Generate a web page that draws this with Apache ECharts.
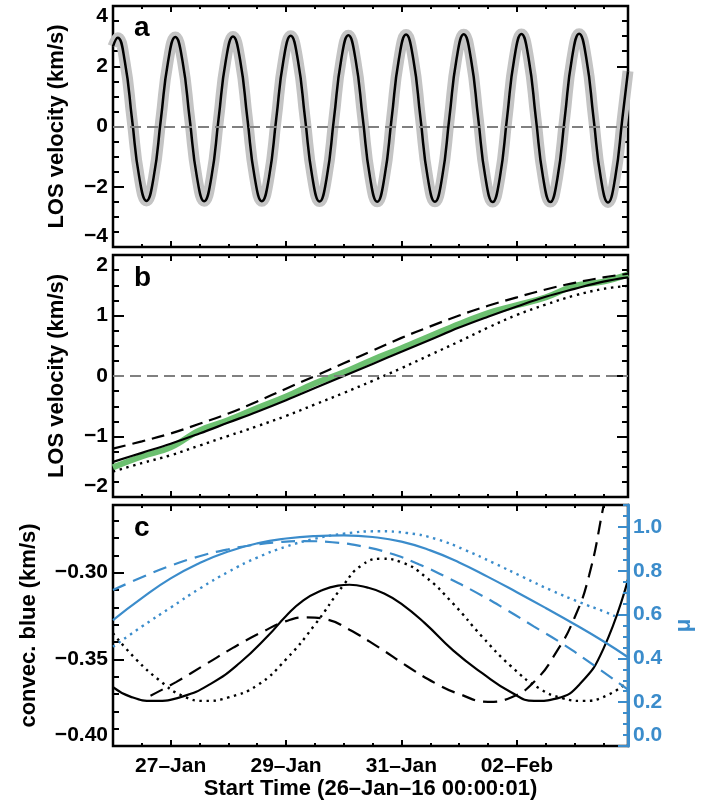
<!DOCTYPE html>
<html><head><meta charset="utf-8">
<script src="https://cdn.jsdelivr.net/npm/echarts@6/dist/echarts.min.js"></script>
<style>html,body{margin:0;padding:0;background:#fff}#c{width:707px;height:807px}</style>
</head><body><div id="c"></div>
<script>
// ---------- DATA (x in days since 26-Jan-16 00:00:01) ----------
const xTickDays = [1, 3, 5, 7];
const xTickLabels = ['27\u2013Jan', '29\u2013Jan', '31\u2013Jan', '02\u2013Feb'];
const xEnd = 8.927;

// Panel a: LOS velocity (observed gray band and black fit)
const timeA = [0,
  0.08,0.205,0.33,0.455,0.58,0.705,0.83,0.955,
  1.08,1.205,1.33,1.455,1.58,1.705,1.83,1.955,
  2.08,2.205,2.33,2.455,2.58,2.705,2.83,2.955,
  3.08,3.205,3.33,3.455,3.58,3.705,3.83,3.955,
  4.08,4.205,4.33,4.455,4.58,4.705,4.83,4.955,
  5.08,5.205,5.33,5.455,5.58,5.705,5.83,5.955,
  6.08,6.205,6.33,6.455,6.58,6.705,6.83,6.955,
  7.08,7.205,7.33,7.455,7.58,7.705,7.83,7.955,
  8.08,8.205,8.33,8.455,8.58,8.705,8.83,
  8.927];
const fitA = [2.66,
  2.95,2.16,0.24,-1.68,-2.47,-1.68,0.24,2.16,
  2.97,2.17,0.24,-1.68,-2.48,-1.69,0.25,2.18,
  2.99,2.19,0.25,-1.68,-2.48,-1.68,0.26,2.20,
  3.01,2.20,0.26,-1.68,-2.49,-1.69,0.26,2.21,
  3.03,2.22,0.27,-1.69,-2.50,-1.69,0.27,2.23,
  3.05,2.24,0.28,-1.69,-2.50,-1.69,0.28,2.24,
  3.06,2.24,0.28,-1.69,-2.51,-1.70,0.28,2.25,
  3.07,2.25,0.28,-1.69,-2.51,-1.70,0.28,2.26,
  3.08,2.26,0.28,-1.70,-2.52,-1.70,0.28,
  1.84];
const obsA = fitA;

// Panel b: LOS velocity after removing the orbital term
const timeB = [0,0.5,1,1.5,2,2.5,3,3.5,4,4.5,5,5.5,6,6.5,7,7.5,8,8.5,8.927];
const obsB  = [-1.51,-1.33,-1.18,-0.90,-0.73,-0.53,-0.34,-0.12,0.06,0.27,0.46,0.66,0.86,1.04,1.17,1.30,1.49,1.56,1.68];
const fitB  = [-1.42,-1.27,-1.12,-0.95,-0.77,-0.59,-0.40,-0.20,0.00,0.20,0.40,0.60,0.80,0.98,1.15,1.31,1.44,1.56,1.63];
const dashB = [-1.20,-1.08,-0.95,-0.79,-0.62,-0.42,-0.21,0.00,0.21,0.42,0.63,0.82,1.00,1.16,1.30,1.43,1.54,1.63,1.69];
const dotB  = [-1.58,-1.44,-1.31,-1.15,-0.99,-0.83,-0.66,-0.47,-0.28,-0.08,0.13,0.35,0.57,0.80,1.01,1.18,1.33,1.44,1.49];

// Panel c: convective blueshift (left axis)
const timeCsolid = [0,0.3,0.7,1.2,1.7,2.2,2.7,3.0,3.3,3.6,3.9,4.1,4.4,4.7,5.0,5.4,5.9,6.4,6.9,7.3,7.7,8.1,8.5,8.927];
const cbSolid    = [-0.366,-0.3715,-0.374,-0.3715,-0.364,-0.352,-0.336,-0.325,-0.316,-0.3105,-0.3075,-0.307,-0.3085,-0.312,-0.318,-0.329,-0.345,-0.358,-0.369,-0.374,-0.3725,-0.364,-0.344,-0.304];
const timeCdash  = [0.65,1.1,1.6,2.1,2.6,3.0,3.35,3.7,4.1,4.6,5.1,5.6,6.0,6.5,6.9,7.3,7.7,8.0,8.25,8.5,8.7];
const cbDash     = [-0.371,-0.363,-0.353,-0.343,-0.334,-0.328,-0.3258,-0.327,-0.333,-0.343,-0.354,-0.364,-0.370,-0.3745,-0.372,-0.363,-0.345,-0.326,-0.302,-0.262,-0.228];
const timeCdot   = [0,0.4,0.8,1.2,1.6,2.0,2.5,3.0,3.5,4.0,4.3,4.65,5.0,5.4,5.9,6.4,6.9,7.4,7.8,8.15,8.55,8.927];
const cbDot      = [-0.335,-0.350,-0.362,-0.371,-0.374,-0.372,-0.365,-0.350,-0.330,-0.307,-0.296,-0.292,-0.294,-0.302,-0.318,-0.337,-0.354,-0.367,-0.3725,-0.374,-0.371,-0.363];
// Panel c: mu (right axis)
const timeMuSolid = [0,0.5,1,1.5,2,2.5,3,3.5,4,4.5,5,5.5,6,6.5,7,7.5,8,8.5,8.927];
const muSolid     = [0.575,0.675,0.765,0.835,0.888,0.925,0.947,0.958,0.961,0.954,0.933,0.893,0.838,0.772,0.702,0.630,0.556,0.478,0.405];
const timeMuDash  = [0,0.5,1,1.5,2,2.5,2.9,3.3,3.8,4.3,4.8,5.3,5.8,6.3,6.8,7.3,7.8,8.3,8.927];
const muDash      = [0.712,0.770,0.823,0.866,0.898,0.920,0.931,0.935,0.930,0.912,0.880,0.830,0.768,0.700,0.625,0.545,0.465,0.375,0.257];
const timeMuDot   = [0,0.5,1,1.5,2,2.5,3,3.5,4,4.6,5.1,5.6,6.1,6.6,7.1,7.6,8.1,8.5,8.7];
const muDot       = [0.453,0.545,0.632,0.718,0.795,0.860,0.910,0.946,0.969,0.980,0.972,0.945,0.895,0.835,0.772,0.710,0.655,0.615,0.593];

// ---------- STYLE / LAYOUT ----------
const FONT = '"Liberation Sans", Arial, Helvetica, sans-serif';
const BLUE = '#3b8ccb';
const GREEN = '#6cc070';
const zip = (xs, ys) => xs.map((x, i) => [x, ys[i]]);
const minus = s => String(s).replace('-', '\u2212');

const grids = [
  {left: 113, top: 6, width: 515, height: 241},
  {left: 113, top: 255, width: 515, height: 242},
  {left: 113, top: 505, width: 515, height: 241}
].map(g => Object.assign(g, {show: true, borderColor: '#000', borderWidth: 2.5, containLabel: false}));

const tickStyle = c => ({color: c || '#000', width: 2});
const labelStyle = {fontFamily: FONT, fontWeight: 'bold', fontSize: 21, color: '#000'};

function xAxesFor(gi, withLabels) {
  const base = {type: 'value', gridIndex: gi, min: 0, max: xEnd, splitLine: {show: false},
    axisLine: {show: false, onZero: false}};
  const out = [];
  ['bottom', 'top'].forEach(pos => {
    out.push(Object.assign({}, base, {position: pos, interval: 0.5,
      axisTick: {show: true, inside: true, length: 3, lineStyle: tickStyle()},
      axisLabel: {show: false}}));
    const major = Object.assign({}, base, {position: pos,
      axisTick: {show: true, inside: true, length: 6, customValues: xTickDays, lineStyle: tickStyle()},
      axisLabel: {show: false}});
    if (withLabels && pos === 'bottom') {
      major.axisLabel = Object.assign({show: true, customValues: xTickDays, margin: 10,
        formatter: v => xTickLabels[xTickDays.indexOf(v)]}, labelStyle);
      major.name = 'Start Time (26\u2013Jan\u201316 00:00:01)';
      major.nameLocation = 'middle';
      major.nameGap = 32;
      major.nameTextStyle = {fontFamily: FONT, fontWeight: 'bold', fontSize: 22, color: '#000'};
    }
    out.push(major);
  });
  return out;
}

function yAxesFor(gi, pos, min, max, majorInt, minorInt, opts) {
  opts = opts || {};
  const color = opts.color || '#000';
  const base = {type: 'value', gridIndex: gi, position: pos, min: min, max: max,
    splitLine: {show: false}, axisLine: {show: false, onZero: false}};
  const major = Object.assign({}, base, {interval: majorInt,
    axisTick: {show: true, inside: true, length: opts.majorLen || 11, lineStyle: tickStyle(color)},
    axisLabel: {show: false}});
  if (opts.labels) {
    major.axisLabel = Object.assign({}, labelStyle, {show: true, color: color, margin: 5,
      showMaxLabel: opts.showMax !== false,
      verticalAlignMinLabel: 'bottom', verticalAlignMaxLabel: 'top',
      formatter: opts.formatter});
  }
  if (opts.name) {
    major.name = opts.name;
    major.nameLocation = 'middle';
    major.nameRotate = 90;
    major.nameGap = opts.nameGap;
    major.nameTextStyle = {fontFamily: FONT, fontWeight: 'bold', fontSize: 22, color: color};
  }
  if (opts.axisLine) {
    major.axisLine = {show: true, onZero: false, lineStyle: {color: color, width: 3}};
    major.z = 5;
  }
  const minor = Object.assign({}, base, {interval: minorInt,
    axisTick: {show: true, inside: true, length: opts.minorLen || 6, lineStyle: tickStyle(color)},
    axisLabel: {show: false}});
  if (opts.axisLine) minor.z = 5;
  return [major, minor];
}

const xAxis = [].concat(xAxesFor(0, false), xAxesFor(1, false), xAxesFor(2, true));
const yAxis = [].concat(
  yAxesFor(0, 'left', -4, 4, 2, 0.5, {labels: true, formatter: v => minus(v), name: 'LOS velocity (km/s)', nameGap: 45}),
  yAxesFor(0, 'right', -4, 4, 2, 0.5, {}),
  yAxesFor(1, 'left', -2, 2, 1, 0.25, {labels: true, formatter: v => minus(v), name: 'LOS velocity (km/s)', nameGap: 45}),
  yAxesFor(1, 'right', -2, 2, 1, 0.25, {}),
  yAxesFor(2, 'left', -0.40, -0.261, 0.05, 0.01, {labels: true, showMax: false, formatter: v => minus(v.toFixed(2)), name: 'convec. blue (km/s)', nameGap: 73}),
  yAxesFor(2, 'right', 0, 1.1, 0.2, 0.05, {labels: true, showMax: false, color: BLUE, axisLine: true, majorLen: 10, minorLen: 5, formatter: v => v.toFixed(1), name: '\u03bc', nameGap: 38})
);

const zeroLine = {silent: true, symbol: ['none', 'none'], label: {show: false},
  lineStyle: {color: '#808080', type: [11, 6], width: 2}, data: [{yAxis: 0}]};
function line(xi, yi, data, color, width, type, extra) {
  return Object.assign({type: 'line', xAxisIndex: xi, yAxisIndex: yi, data: data, smooth: true,
    symbol: 'none', silent: true, lineStyle: {color: color, width: width, type: type || 'solid', cap: 'butt'}}, extra || {});
}

const series = [
  line(0, 0, zip(timeA, obsA), '#c4c4c4', 11, 'solid', {markLine: zeroLine, z: 1}),
  line(0, 0, zip(timeA, fitA), '#000', 2.5, 'solid', {z: 3}),
  line(4, 4, zip(timeB, obsB), GREEN, 6, 'solid', {markLine: zeroLine, z: 1, smooth: 0.4}),
  line(4, 4, zip(timeB, fitB), '#000', 2.2, 'solid', {z: 3, smooth: 0.4}),
  line(4, 4, zip(timeB, dashB), '#000', 2.2, [13, 7], {z: 3, smooth: 0.4}),
  line(4, 4, zip(timeB, dotB), '#000', 2.4, [2.4, 4.6], {z: 3, smooth: 0.4}),
  line(8, 8, zip(timeCsolid, cbSolid), '#000', 2.2, 'solid', {z: 3}),
  line(8, 8, zip(timeCdash, cbDash), '#000', 2.2, [14, 8], {z: 3}),
  line(8, 8, zip(timeCdot, cbDot), '#000', 2.4, [2.4, 4.6], {z: 3}),
  line(8, 10, zip(timeMuSolid, muSolid), BLUE, 2.2, 'solid', {z: 3}),
  line(8, 10, zip(timeMuDash, muDash), BLUE, 2.2, [14, 8], {z: 3}),
  line(8, 10, zip(timeMuDot, muDot), BLUE, 2.4, [2.4, 4.6], {z: 3})
];

const panelLetter = (t, y) => ({type: 'text', left: 134, top: y, z: 10,
  style: {text: t, font: 'bold 28px ' + FONT, fill: '#000'}});

const chart = echarts.init(document.getElementById('c'), null, {renderer: 'canvas'});
chart.setOption({
  animation: false,
  backgroundColor: '#fff',
  grid: grids,
  xAxis: xAxis,
  yAxis: yAxis,
  series: series,
  graphic: [panelLetter('a', 14), panelLetter('b', 264), panelLetter('c', 514)]
});
</script>
</body></html>
